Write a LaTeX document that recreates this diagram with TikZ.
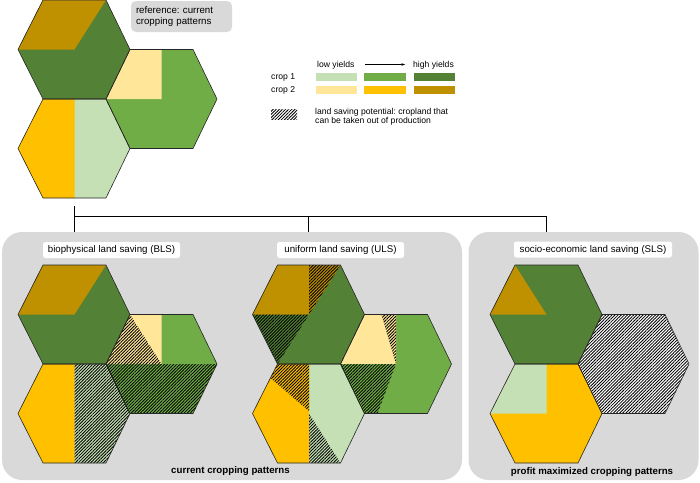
\documentclass[tikz,border=0pt]{standalone}
\usepackage{fontspec}
\setmainfont{Liberation Sans}
\frenchspacing
\usetikzlibrary{patterns.meta,arrows.meta}
\definecolor{gA}{HTML}{C5E0B4}
\definecolor{gB}{HTML}{70AD47}
\definecolor{gC}{HTML}{538135}
\definecolor{yA}{HTML}{FFE699}
\definecolor{yB}{HTML}{FFC000}
\definecolor{yC}{HTML}{BF9000}
\definecolor{panelgrey}{HTML}{D9D9D9}
\newcommand{\HexOne}{(18,49.5) -- (43,0) -- (106,0) -- (130,49.5) -- (106,99) -- (43,99) -- cycle}
\newcommand{\HexTwo}{(106,99) -- (130,49.5) -- (193,49.5) -- (217,99) -- (193,148.5) -- (130,148.5) -- cycle}
\newcommand{\HexThree}{(18,148.5) -- (43,99) -- (106,99) -- (130,148.5) -- (106,198) -- (43,198) -- cycle}
\newcommand{\HexOutlines}{\draw[hexline] \HexOne; \draw[hexline] \HexTwo; \draw[hexline] \HexThree;}
\tikzset{
  hatch/.style={pattern={Lines[angle=45,distance=2.2pt,line width=0.85pt]},pattern color=black},
  hexline/.style={draw=black!85,line width=0.6pt,line join=round},
  legendtext/.style={font=\fontsize{8.6}{9.4}\selectfont,inner sep=0pt},
  labeltext/.style={font=\fontsize{9.7}{11.4}\selectfont},
  captiontext/.style={font=\bfseries\fontsize{9.7}{11}\selectfont,inner sep=0pt},
  panel/.style={fill=panelgrey,rounded corners=20pt,inner sep=0pt},
  labelbox/.style={labeltext,fill=white,rounded corners=2.5pt,inner sep=0pt,minimum height=16pt},
  conn/.style={draw=black,line width=0.8pt}
}
\begin{document}
\begin{tikzpicture}[x=1pt,y=-1pt]
\useasboundingbox (0,0) rectangle (700,482);

% ---------- connectors ----------
\coordinate (refbot) at (74,206);
\coordinate (j0) at (74,216);
\coordinate (j1) at (308,216);
\coordinate (j2) at (546,216);

% ---------- panels ----------
\node[panel,minimum width=460pt,minimum height=248pt] (p1) at (232,356) {};
\node[panel,minimum width=230pt,minimum height=248pt] (p2) at (583.5,356) {};

\draw[conn] (refbot) -- (j0 |- p1.north);
\draw[conn] (j0) -- (j2);
\draw[conn] (j1) -- (j1 |- p1.north);
\draw[conn] (j2) -- (j2 |- p2.north);

% ---------- reference cluster ----------
\begin{scope}
  \fill[gC] \HexOne;
  \fill[yC] (18,49.5) -- (43,0) -- (106,0) -- (74.5,49.5) -- cycle;
  \fill[gB] \HexTwo;
  \fill[yA] (106,99) -- (130,49.5) -- (161.5,49.5) -- (161.5,99) -- cycle;
  \fill[gA] \HexThree;
  \fill[yB] (18,148.5) -- (43,99) -- (74.5,99) -- (74.5,198) -- (43,198) -- cycle;
  \HexOutlines
\end{scope}
\node[labeltext,fill=panelgrey,rounded corners=5pt,align=left,text width=91pt,
      minimum width=101pt,minimum height=31pt,inner xsep=5pt,inner ysep=0pt] (reflabel) at (181.5,16.5)
      {reference: current\\cropping patterns};

% ---------- legend ----------
\node[legendtext,anchor=base west] (low) at (317,67.5) {low yields};
\node[legendtext,anchor=base west] (high) at (413,67.5) {high yields};
\coordinate (a1) at (365,64.5);
\coordinate (a2) at (405,64.5);
\draw[line width=0.5pt,-{Stealth[length=3.5pt,width=2.5pt]}] (a1) -- (a2);
\node[legendtext,anchor=base west] (c1) at (271,79.5) {crop 1};
\node[legendtext,anchor=base west] (c2) at (271,92.5) {crop 2};
\fill[gA] (316,73) rectangle (357,81);
\fill[gB] (364,73) rectangle (406,81);
\fill[gC] (414,73) rectangle (455,81);
\fill[yA] (316,86) rectangle (357,94);
\fill[yB] (364,86) rectangle (406,94);
\fill[yC] (414,86) rectangle (455,94);
\fill[hatch] (271,109) rectangle (297,119);
\node[legendtext,anchor=north west,align=left] (lsp) at (315,107.6)
  {land saving potential: cropland that\\can be taken out of production};

% ---------- BLS ----------
\begin{scope}[shift={(0,265)}]
  \fill[gC] \HexOne;
  \fill[yC] (18,49.5) -- (43,0) -- (106,0) -- (74.5,49.5) -- cycle;
  \fill[gB] \HexTwo;
  \fill[yA] (106,99) -- (130,49.5) -- (161.5,49.5) -- (161.5,99) -- cycle;
  \fill[hatch] (106,99) -- (130,49.5) -- (161.5,99) -- cycle;
  \fill[hatch] (106,99) -- (217,99) -- (193,148.5) -- (130,148.5) -- cycle;
  \fill[gA] \HexThree;
  \fill[yB] (18,148.5) -- (43,99) -- (74.5,99) -- (74.5,198) -- (43,198) -- cycle;
  \fill[hatch] (74.5,99) -- (106,99) -- (130,148.5) -- (106,198) -- (74.5,198) -- cycle;
  \HexOutlines
\end{scope}

% ---------- ULS ----------
\begin{scope}[shift={(234.5,265)}]
  \fill[gC] \HexOne;
  \fill[yC] (18,49.5) -- (43,0) -- (106,0) -- (74.5,49.5) -- cycle;
  \fill[hatch] (74.5,0) -- (106,0) -- (74.5,49.5) -- cycle;
  \fill[hatch] (18,49.5) -- (74.5,49.5) -- (43,99) -- cycle;
  \fill[gB] \HexTwo;
  \fill[yA] (106,99) -- (130,49.5) -- (147,49.5) -- (161.5,99) -- cycle;
  \fill[yA] (147,49.5) -- (161.5,49.5) -- (161.5,99) -- cycle;
  \fill[hatch] (147,49.5) -- (161.5,49.5) -- (161.5,99) -- cycle;
  \fill[hatch] (106,99) -- (161.5,99) -- (143,148.5) -- (130,148.5) -- cycle;
  \fill[gA] \HexThree;
  \fill[yB] (18,148.5) -- (43,99) -- (74.5,99) -- (74.5,198) -- (43,198) -- cycle;
  \fill[hatch] (43,99) -- (74.5,99) -- (74.5,146) -- (36,113) -- cycle;
  \fill[hatch] (74.5,148.5) -- (106,198) -- (74.5,198) -- cycle;
  \HexOutlines
\end{scope}

% ---------- SLS ----------
\begin{scope}[shift={(472,265)}]
  \fill[gC] \HexOne;
  \fill[yC] (18,49.5) -- (43,0) -- (74.5,49.5) -- cycle;
  \fill[white] \HexTwo;
  \fill[hatch] \HexTwo;
  \fill[yB] \HexThree;
  \fill[gA] (43,99) -- (74.5,99) -- (74.5,148.5) -- (18,148.5) -- cycle;
  \HexOutlines
\end{scope}

% ---------- labels ----------
\node[labelbox,minimum width=137pt] (bls) at (111.5,250) {biophysical land saving (BLS)};
\node[labelbox,minimum width=127pt] (uls) at (340.5,250) {uniform land saving (ULS)};
\node[labelbox,minimum width=158pt] (sls) at (593,249.5) {socio-economic land saving (SLS)};
\node[captiontext] (cap1) at (230.5,471) {current cropping patterns};
\node[captiontext] (cap2) at (592,472) {profit maximized cropping patterns};
\end{tikzpicture}
\end{document}
